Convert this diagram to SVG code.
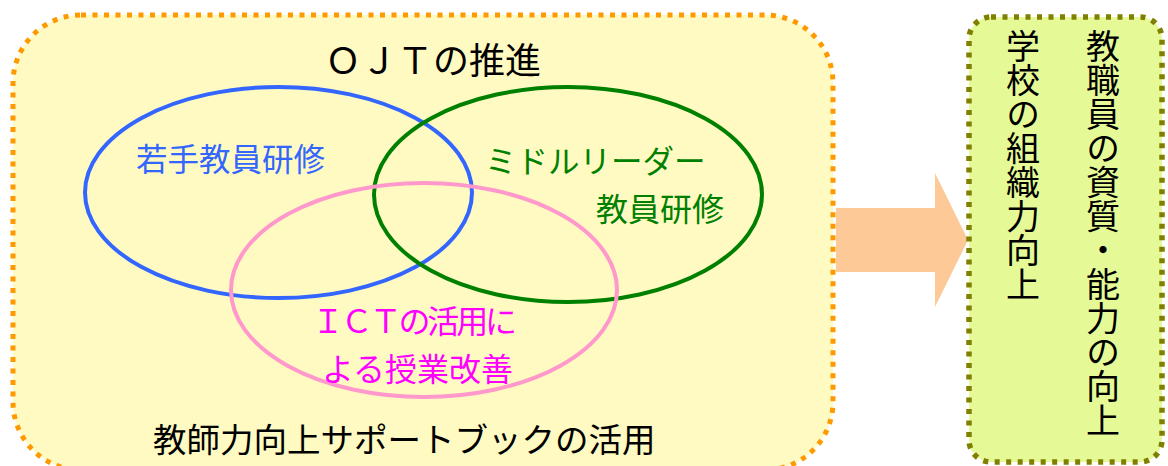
<svg xmlns="http://www.w3.org/2000/svg" width="1168" height="466" viewBox="0 0 1168 466">
  <style>
    .jp { font-family: "Noto Sans CJK JP", "Noto Sans", sans-serif; font-weight: 400; }
    .ell { fill: none; stroke-width: 4; }
    .vert { writing-mode: vertical-rl; font-size: 34px; fill: #000; }
  </style>
  <rect width="1168" height="466" fill="#ffffff"/>
  <g id="connectors">
    <polygon id="arrow" points="836,208 935,208 935,173 968,240 935,307 935,272 836,272" fill="#FDC997"/>
  </g>
  <g id="ojt-box">
    <rect x="13" y="15" width="820" height="455" rx="68" ry="68" fill="#FFFAC2" stroke="#FF9900" stroke-width="5" stroke-dasharray="5 6.5"/>
    <text class="jp" x="433" y="74" font-size="36" text-anchor="middle" fill="#000">ＯＪＴの推進</text>
    <text class="jp" x="153" y="452" font-size="33.5" fill="#000">教師力向上サポートブックの活用</text>
  </g>
  <g id="young-teachers">
    <ellipse class="ell" cx="278.5" cy="192.5" rx="193.5" ry="105.5" stroke="#3366FF"/>
    <text class="jp" x="136" y="171" font-size="31.5" fill="#3366FF">若手教員研修</text>
  </g>
  <g id="middle-leader">
    <ellipse class="ell" cx="568" cy="194.5" rx="194" ry="107.5" stroke="#008000"/>
    <text class="jp" x="485" y="173" font-size="31.5" fill="#008000">ミドルリーダー</text>
    <text class="jp" x="724" y="221" font-size="32" text-anchor="end" fill="#008000">教員研修</text>
  </g>
  <g id="ict">
    <ellipse class="ell" cx="424" cy="290" rx="193" ry="107" stroke="#FF99CC"/>
    <text class="jp" x="312" y="333" font-size="32" fill="#FF00FF" textLength="205" lengthAdjust="spacing">ＩＣＴの活用に</text>
    <text class="jp" x="322" y="381" font-size="32" fill="#FF00FF">よる授業改善</text>
  </g>
  <g id="result-box">
    <rect x="969" y="17" width="193" height="445" rx="22" ry="22" fill="#E5FA96" stroke="#808000" stroke-width="5.5" stroke-dasharray="5 6.5"/>
    <text class="jp vert" x="1103" y="29">教職員の資質・能力の向上</text>
    <text class="jp vert" x="1023" y="29">学校の組織力向上</text>
  </g>
</svg>
